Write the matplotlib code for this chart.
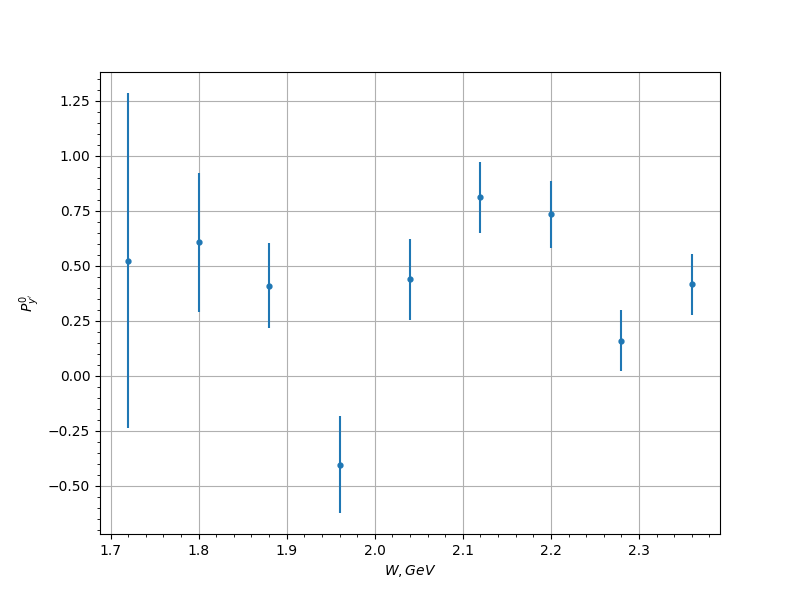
import matplotlib
matplotlib.use("Agg")
import matplotlib.pyplot as plt

W = [1.72, 1.80, 1.88, 1.96, 2.04, 2.12, 2.20, 2.28, 2.36]
P = [0.524, 0.607, 0.410, -0.404, 0.438, 0.812, 0.734, 0.160, 0.416]
err = [0.762, 0.315, 0.192, 0.220, 0.185, 0.162, 0.151, 0.137, 0.140]

fig, ax = plt.subplots(figsize=(8, 6), dpi=100)
ax.errorbar(W, P, yerr=err, fmt='o', markersize=3.5)
ax.set_xlabel('$W, GeV$')
ax.set_ylabel("$P_{y'}^0$")
ax.grid(True)
ax.minorticks_on()
ax.grid(False, which='minor')
fig.savefig('out.png')
